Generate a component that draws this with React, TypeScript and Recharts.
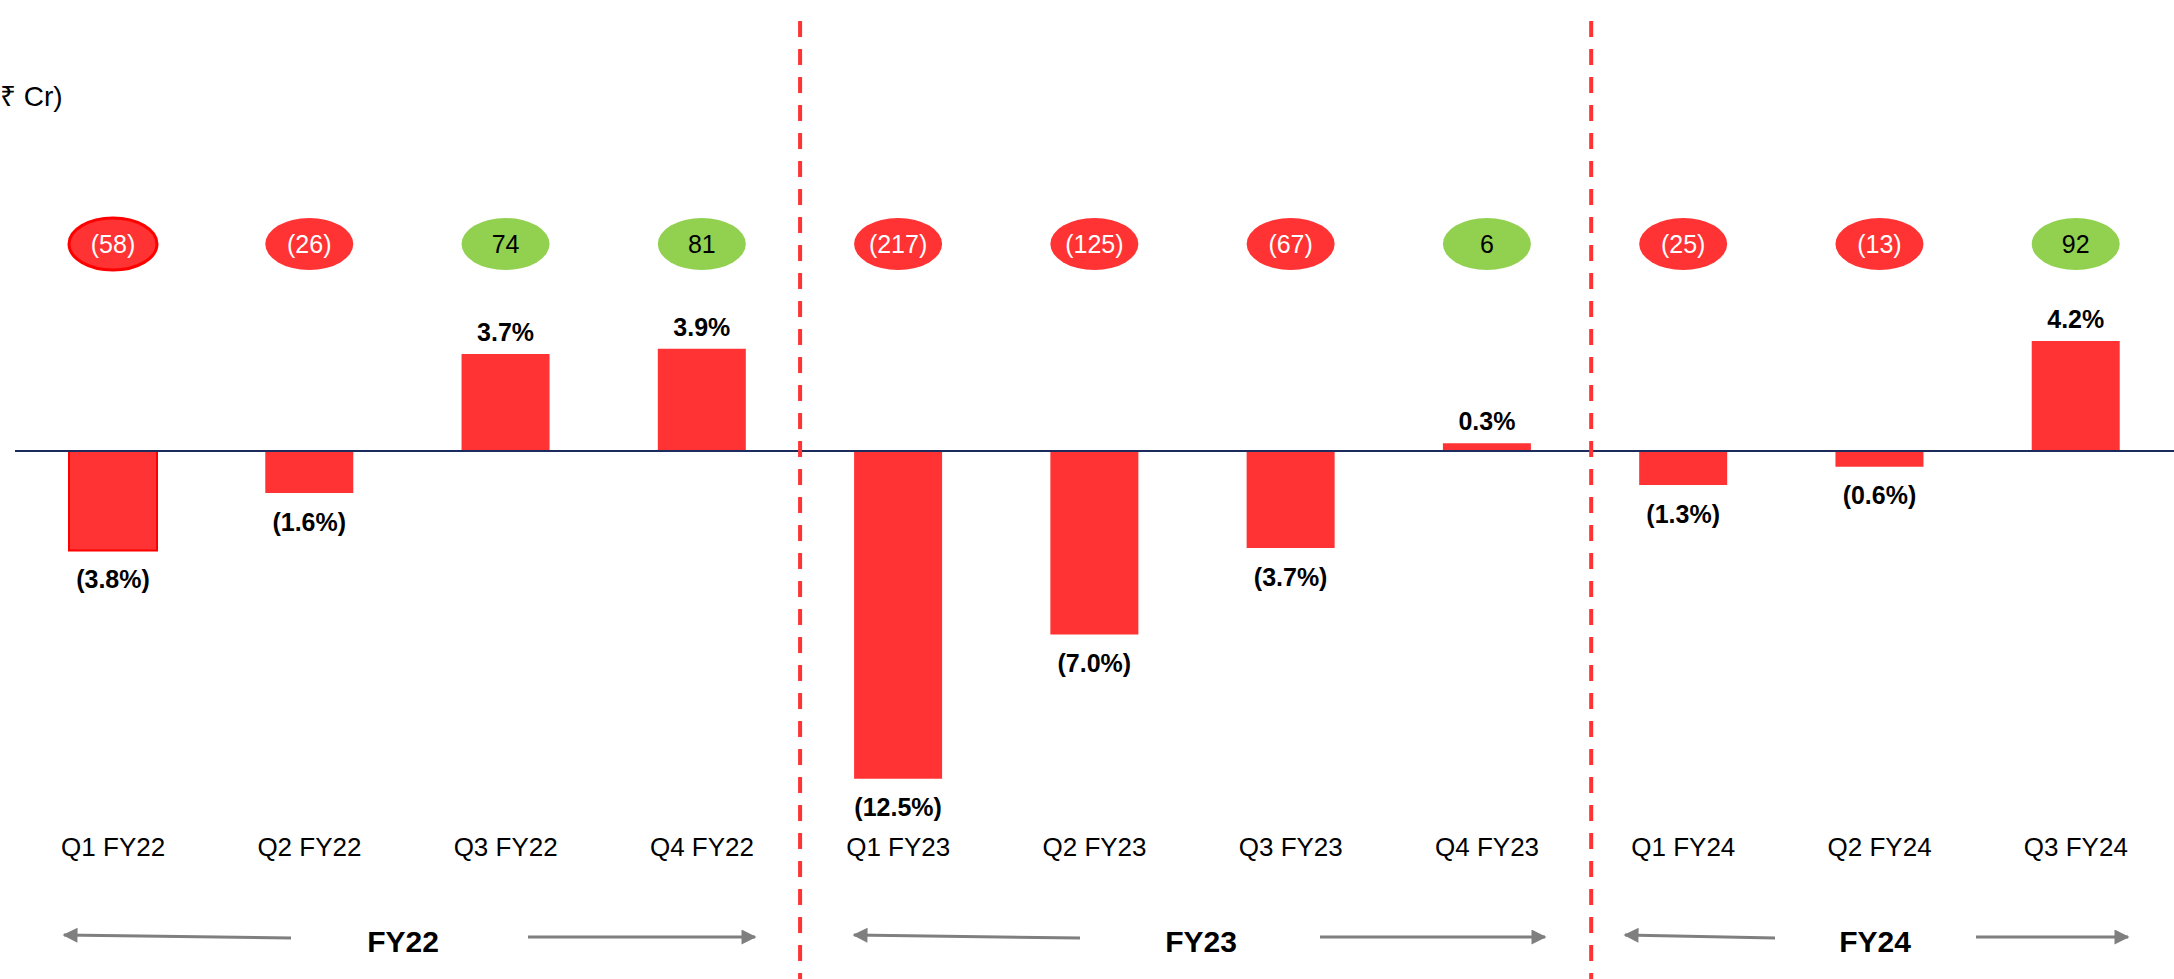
import { Bar, BarChart, Cell, Customized, LabelList, ReferenceLine, XAxis, YAxis } from 'recharts'

const quarters = [
  'Q1 FY22', 'Q2 FY22', 'Q3 FY22', 'Q4 FY22',
  'Q1 FY23', 'Q2 FY23', 'Q3 FY23', 'Q4 FY23',
  'Q1 FY24', 'Q2 FY24', 'Q3 FY24',
]
// EBITDA margin (%)
const marginPct = [-3.8, -1.6, 3.7, 3.9, -12.5, -7.0, -3.7, 0.3, -1.3, -0.6, 4.2]
// EBITDA (₹ Cr)
const ebitdaCr = [-58, -26, 74, 81, -217, -125, -67, 6, -25, -13, 92]
const fyNames = ['FY22', 'FY23', 'FY24']
const fyFirstQuarter = ['Q1 FY23', 'Q1 FY24']

const data = quarters.map((q, i) => ({ q, pct: marginPct[i], cr: ebitdaCr[i] }))

const W = 2174
const H = 979
const FONT = '"Liberation Sans", Arial, Helvetica, sans-serif'
const RED = '#FF3333'
const GREEN = '#92D050'

// bottom FY brackets: [left tip, left line end, right line start, right tip, label x]
const fyLayout = [
  [64, 291, 528, 755, 403],
  [854, 1080, 1320, 1545, 1201],
  [1625, 1775, 1976, 2128, 1875],
]

const fmtPct = (v: number) => (v < 0 ? `(${Math.abs(v).toFixed(1)}%)` : `${v.toFixed(1)}%`)
const fmtCr = (v: number) => (v < 0 ? `(${Math.abs(v)})` : `${v}`)

function PctLabel(props: any) {
  const { x, y, width, height, value } = props
  const cx = Number(x) + Number(width) / 2
  const top = Math.min(Number(y), Number(y) + Number(height))
  const bottom = Math.max(Number(y), Number(y) + Number(height))
  const ty = value < 0 ? bottom + 29 : top - 22
  return (
    <text x={cx} y={ty} dy="0.35em" textAnchor="middle" fontSize={25} fontWeight="bold" fontFamily={FONT} fill="#000">
      {fmtPct(value)}
    </text>
  )
}

function CrBubble(props: any) {
  const { x, width, value, index } = props
  const cx = Number(x) + Number(width) / 2
  const neg = value < 0
  return (
    <g>
      <ellipse
        cx={cx}
        cy={244}
        rx={44}
        ry={26}
        fill={neg ? RED : GREEN}
        stroke={index === 0 ? '#FF0000' : 'none'}
        strokeWidth={3}
      />
      <text x={cx} y={244} dy="0.36em" textAnchor="middle" fontSize={25} fontFamily={FONT} fill={neg ? '#fff' : '#000'}>
        {fmtCr(value)}
      </text>
    </g>
  )
}

function Divider(props: any) {
  const { x1, dx } = props
  const x = Number(x1) + (dx || 0)
  return <line x1={x} x2={x} y1={21} y2={H} stroke={RED} strokeWidth={4} strokeDasharray="16 12" />
}

function Annotations() {
  return (
    <g fontFamily={FONT}>
      <text x={0} y={96} dy="0.35em" fontSize={28} fill="#000">₹ Cr)</text>
      <defs>
        <marker id="arr" viewBox="0 0 10 10" refX="9" refY="5" markerWidth="5.5" markerHeight="5" orient="auto">
          <path d="M0,0 L10,5 L0,10 z" fill="#7F7F7F" />
        </marker>
      </defs>
      {fyNames.map((fy, i) => {
        const [lt, le, rs, rt, lx] = fyLayout[i]
        return (
          <g key={fy}>
            <line x1={le} y1={938} x2={lt} y2={935} stroke="#7F7F7F" strokeWidth={3} markerEnd="url(#arr)" />
            <line x1={rs} y1={937} x2={rt} y2={937} stroke="#7F7F7F" strokeWidth={3} markerEnd="url(#arr)" />
            <text x={lx} y={941} dy="0.35em" textAnchor="middle" fontSize={30} fontWeight="bold" fill="#000">
              {fy}
            </text>
          </g>
        )
      })}
    </g>
  )
}

export default function App() {
  return (
    <div style={{ position: 'absolute', left: 0, top: 0, background: '#fff' }}>
      <BarChart width={W} height={H} data={data} margin={{ top: 84, right: 0, left: 15, bottom: 0 }}>
        <XAxis
          dataKey="q"
          axisLine={false}
          tickLine={false}
          height={161}
          tickMargin={14}
          interval={0}
          tick={{ fontSize: 26, fill: '#000', fontFamily: FONT }}
        />
        <YAxis hide domain={[-14, 14]} />
        <Bar dataKey="pct" barSize={88} fill={RED} isAnimationActive={false}>
          {data.map((d, i) => (
            <Cell key={d.q} fill={RED} stroke={i === 0 ? '#FF0000' : 'none'} strokeWidth={2} />
          ))}
          <LabelList dataKey="pct" content={<PctLabel />} />
          <LabelList dataKey="cr" content={<CrBubble />} />
        </Bar>
        <ReferenceLine y={0} stroke="#1B2B5E" strokeWidth={2} />
        {fyFirstQuarter.map((q, i) => (
          <ReferenceLine
            key={q}
            x={q}
            position="start"
            stroke={RED}
            shape={(p: any) => <Divider {...p} dx={i === 1 ? 6 : 0} />}
          />
        ))}
        <Customized component={<Annotations />} />
      </BarChart>
    </div>
  )
}
